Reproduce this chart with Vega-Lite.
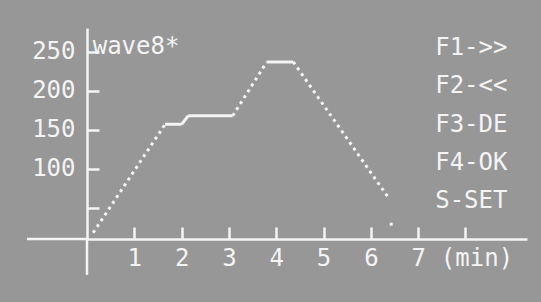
{
  "$schema": "https://vega.github.io/schema/vega-lite/v6.json",
  "width": 440,
  "height": 211,
  "autosize": {"type": "none"},
  "padding": {"left": 87, "top": 28, "right": 14, "bottom": 63},
  "background": "#979797",
  "config": {
    "view": {"stroke": null},
    "font": "DejaVu Sans Mono",
    "axis": {
      "grid": false,
      "domainColor": "#f4f4f4",
      "domainWidth": 2.5,
      "tickColor": "#f4f4f4",
      "tickWidth": 2.5,
      "tickSize": -12,
      "labelColor": "#f4f4f4",
      "labelFont": "DejaVu Sans Mono",
      "labelFontSize": 24,
      "title": null
    }
  },
  "layer": [
    {
      "data": {"values": [
        {"seg": "a", "phase": "ramp", "t": 0.13, "temp": 18},
        {"seg": "a", "phase": "ramp", "t": 1.65, "temp": 157},
        {"seg": "b", "phase": "hold", "t": 1.65, "temp": 157},
        {"seg": "b", "phase": "hold", "t": 2.0, "temp": 157},
        {"seg": "c", "phase": "hold", "t": 2.0, "temp": 157},
        {"seg": "c", "phase": "hold", "t": 2.14, "temp": 168},
        {"seg": "d", "phase": "hold", "t": 2.14, "temp": 168},
        {"seg": "d", "phase": "hold", "t": 3.08, "temp": 168},
        {"seg": "e", "phase": "ramp", "t": 3.08, "temp": 168},
        {"seg": "e", "phase": "ramp", "t": 3.8, "temp": 237},
        {"seg": "f", "phase": "hold", "t": 3.8, "temp": 237},
        {"seg": "f", "phase": "hold", "t": 4.36, "temp": 237},
        {"seg": "g", "phase": "ramp", "t": 4.36, "temp": 237},
        {"seg": "g", "phase": "ramp", "t": 6.36, "temp": 64}
      ]},
      "mark": {"type": "line", "color": "#f4f4f4", "strokeWidth": 3, "clip": false},
      "encoding": {
        "x": {
          "field": "t", "type": "quantitative",
          "scale": {"domain": [0, 9.3], "nice": false, "zero": false},
          "axis": {
            "values": [1, 2, 3, 4, 5, 6, 7, 8],
            "labelExpr": "datum.value == 8 ? '(min)' : datum.label",
            "labelOffset": {"condition": {"test": "datum.value == 8", "value": 11}, "value": 0},
            "labelPadding": 19,
            "labelBaseline": "top"
          }
        },
        "y": {
          "field": "temp", "type": "quantitative",
          "scale": {"domain": [10, 280.5], "nice": false, "zero": false},
          "axis": {
            "values": [50, 100, 150, 200, 250],
            "labelExpr": "datum.value == 50 ? '' : datum.label",
            "labelPadding": 24,
            "labelBaseline": "middle"
          }
        },
        "detail": {"field": "seg"},
        "strokeDash": {
          "field": "phase", "type": "nominal",
          "scale": {"domain": ["ramp", "hold"], "range": [[3, 4], [1, 0]]},
          "legend": null
        }
      }
    },
    {
      "data": {"values": [{"t": 6.43, "temp": 29}]},
      "mark": {"type": "square", "color": "#f4f4f4", "size": 9, "opacity": 1},
      "encoding": {
        "x": {"field": "t", "type": "quantitative"},
        "y": {"field": "temp", "type": "quantitative"}
      }
    },
    {
      "data": {"values": [{}]},
      "mark": {"type": "rule", "color": "#f4f4f4", "strokeWidth": 2.5, "clip": false},
      "encoding": {
        "x": {"datum": -1.27},
        "x2": {"datum": 0},
        "y": {"datum": 10}
      }
    },
    {
      "data": {"values": [{}]},
      "mark": {"type": "rule", "color": "#f4f4f4", "strokeWidth": 2.5, "clip": false},
      "encoding": {
        "x": {"datum": 0},
        "y": {"datum": 10},
        "y2": {"datum": -36}
      }
    },
    {
      "data": {"values": [{"name": "wave8*"}]},
      "mark": {"type": "text", "color": "#f4f4f4", "font": "DejaVu Sans Mono", "fontSize": 24, "align": "left", "baseline": "middle"},
      "encoding": {
        "x": {"datum": 0.12},
        "y": {"datum": 256},
        "text": {"field": "name", "type": "nominal"}
      }
    },
    {
      "data": {"values": [{"menu": "F1->>\nF2-<<\nF3-DE\nF4-OK\nS-SET"}]},
      "mark": {"type": "text", "color": "#f4f4f4", "font": "DejaVu Sans Mono", "fontSize": 24, "align": "left", "baseline": "top", "lineBreak": "\n", "lineHeight": 38.3},
      "encoding": {
        "x": {"datum": 7.36},
        "y": {"datum": 270},
        "text": {"field": "menu", "type": "nominal"}
      }
    }
  ]
}
